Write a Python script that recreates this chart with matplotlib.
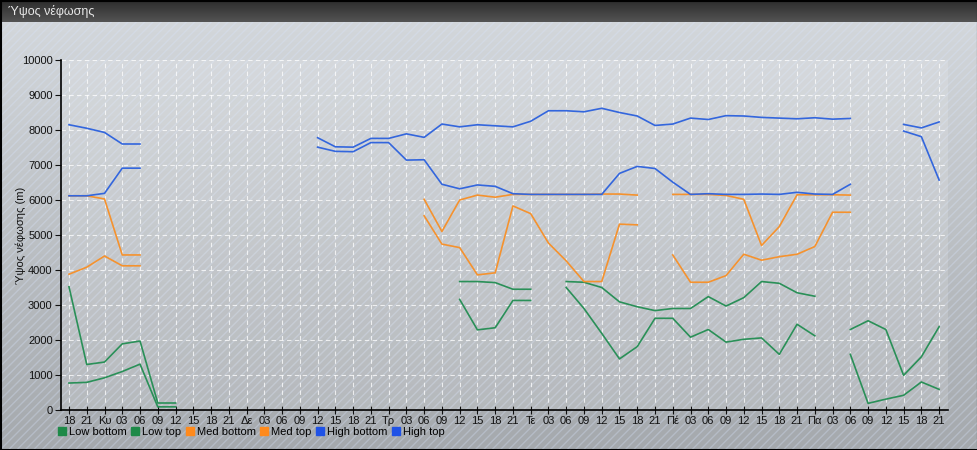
import numpy as np
import matplotlib.pyplot as plt
from matplotlib.patches import Rectangle
from matplotlib.lines import Line2D
from matplotlib.colors import LinearSegmentedColormap

plt.rcParams['font.family'] = ['Liberation Sans', 'DejaVu Sans']
plt.rcParams['hatch.linewidth'] = 1.0

N = np.nan
labels = ['18', '21',
          'Κυ', '03', '06', '09', '12', '15', '18', '21',
          'Δε', '03', '06', '09', '12', '15', '18', '21',
          'Τρ', '03', '06', '09', '12', '15', '18', '21',
          'Τε', '03', '06', '09', '12', '15', '18', '21',
          'Πέ', '03', '06', '09', '12', '15', '18', '21',
          'Πα', '03', '06', '09', '12', '15', '18', '21']

low_bottom = [770, 790, 920, 1100, 1310, 90, 90, N, N, N,
              N, N, N, N, N, N, N, N, N, N,
              N, N, 3160, 2290, 2350, 3130, 3130, N, 3500, 2900,
              2190, 1460, 1810, 2620, 2620, 2080, 2300, 1940, 2020, 2060,
              1590, 2450, 2120, N, 1590, 190, 310, 420, 800, 590]
low_top = [3520, 1300, 1370, 1890, 1970, 200, 200, N, N, N,
           N, N, N, N, N, N, N, N, N, N,
           N, N, 3670, 3670, 3640, 3450, 3450, N, 3670, 3650,
           3500, 3090, 2950, 2840, 2900, 2900, 3240, 2970, 3210, 3670,
           3620, 3350, 3250, N, 2300, 2550, 2300, 990, 1520, 2380]
med_bottom = [3880, 4080, 4400, 4120, 4120, N, N, N, N, N,
              N, N, N, N, N, N, N, N, N, N,
              5550, 4740, 4640, 3860, 3920, 5830, 5610, 4770, 4260, 3670,
              3670, 5310, 5290, N, 4430, 3650, 3650, 3840, 4450, 4280,
              4380, 4450, 4670, 5650, 5650, N, N, N, N, N]
med_top = [6120, 6120, 6030, 4430, 4430, N, N, N, N, N,
           N, N, N, N, N, N, N, N, N, N,
           6020, 5100, 6000, 6140, 6080, 6160, 6160, 6160, 6160, 6160,
           6170, 6170, 6140, N, 6160, 6160, 6160, 6130, 6020, 4700,
           5240, 6150, 6150, 6150, 6140, N, N, N, N, N]
high_bottom = [6120, 6120, 6190, 6910, 6910, N, N, N, N, N,
               N, N, N, N, 7510, 7390, 7380, 7640, 7640, 7140,
               7150, 6450, 6320, 6430, 6390, 6180, 6160, 6160, 6160, 6160,
               6160, 6760, 6960, 6900, 6510, 6160, 6180, 6160, 6160, 6170,
               6160, 6220, 6170, 6160, 6450, N, N, 7970, 7810, 6570]
high_top = [8150, 8050, 7930, 7600, 7600, N, N, N, N, N,
            N, N, N, N, 7780, 7520, 7510, 7760, 7760, 7890,
            7790, 8170, 8090, 8150, 8120, 8090, 8250, 8550, 8550, 8520,
            8620, 8500, 8400, 8130, 8170, 8340, 8300, 8410, 8400, 8360,
            8340, 8320, 8350, 8310, 8330, N, N, 8160, 8060, 8230]

series_names = ['Low bottom', 'Low top', 'Med bottom', 'Med top', 'High bottom', 'High top']
series = [low_bottom, low_top, med_bottom, med_top, high_bottom, high_top]
line_colors = ['#2a9058', '#2a9058', '#f5922e', '#f5922e', '#3366dd', '#3366dd']
legend_colors = ['#1e8a48', '#1e8a48', '#ff8a1c', '#ff8a1c', '#1f52e6', '#1f52e6']

W, H = 978, 450
fig = plt.figure(figsize=(W / 100, H / 100), dpi=100)

# background: title bar + hatched grey body
bg = fig.add_axes([0, 0, 1, 1], zorder=-5)
bg.axis('off')
grad = np.linspace(0, 1, 256)[:, None]
body_cmap = LinearSegmentedColormap.from_list('body', ['#d3d7db', '#a5a9ad'])
bar_cmap = LinearSegmentedColormap.from_list('bar', ['#2b2b2b', '#545454'])
bg.imshow(grad, cmap=body_cmap, extent=(0, W, H, 22), aspect='auto')
bg.imshow(grad, cmap=bar_cmap, extent=(0, W, 22, 0), aspect='auto')
bg.add_patch(Rectangle((0, 22), W, H - 22, facecolor='none',
                       edgecolor=(0.85, 0.9, 1, 0.3), hatch='////', lw=0))
bg.add_patch(Rectangle((0.5, 0.5), W - 1, H - 1, fill=False, ec='black', lw=1.5))
bg.set_xlim(0, W)
bg.set_ylim(H, 0)
bg.text(8, 12, 'Ύψος νέφωσης', color='#e8e8e8', fontsize=9, va='center', ha='left')

ax = fig.add_axes([61 / W, 1 - 410 / H, (948 - 61) / W, (410 - 60) / H])
ax.set_facecolor((1, 1, 1, 0.15))
x = np.arange(len(labels))
for name, vals, c in zip(series_names, series, line_colors):
    ax.plot(x, vals, color=c, lw=1.2, label=name)

ax.set_xlim(-0.45, 49.5)
ax.set_ylim(0, 10000)
ax.set_yticks(np.arange(0, 10001, 1000))
ax.set_xticks(x)
ax.set_xticklabels(labels)
ax.grid(True, color='white', alpha=0.75, ls=(0, (4, 3)), lw=0.8)
ax.set_axisbelow(True)
for s in ['top', 'right']:
    ax.spines[s].set_visible(False)
for s in ['left', 'bottom']:
    ax.spines[s].set_color('black')
    ax.spines[s].set_linewidth(1.2)
ax.tick_params(axis='x', direction='inout', length=6, labelsize=8, pad=1, colors='#111111')
ax.tick_params(axis='y', direction='out', length=4, labelsize=8, pad=2, colors='#111111')
ax.set_ylabel('Ύψος νέφωσης (m)', fontsize=8, color='#111111')
ax.yaxis.set_label_coords(-0.039, 0.5)

handles = [Line2D([], [], ls='', marker='s', markersize=6, color=c) for c in legend_colors]
fig.legend(handles, series_names, loc='upper left', bbox_to_anchor=(58 / W, 1 - 427 / H),
           ncol=6, frameon=False, fontsize=8, handlelength=0.7, handletextpad=0.25,
           columnspacing=0.45, borderaxespad=0, borderpad=0)

fig.savefig('out.png', dpi=100)
